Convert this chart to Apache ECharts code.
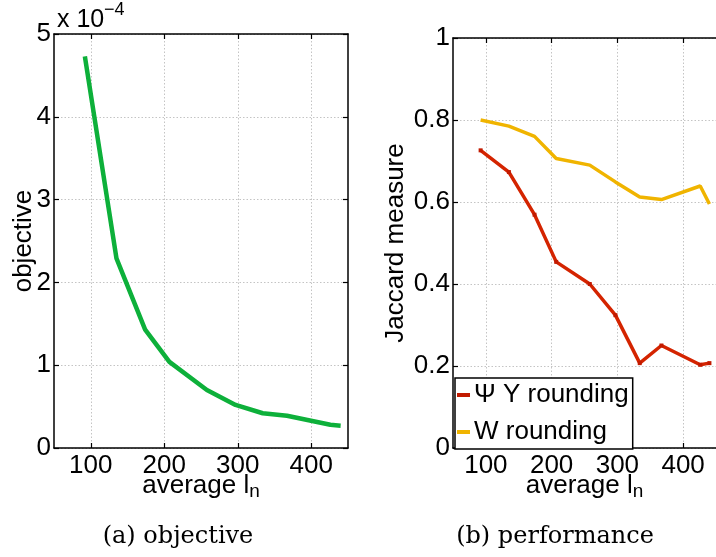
<!DOCTYPE html>
<html>
<head>
<meta charset="utf-8">
<script src="https://cdn.jsdelivr.net/npm/echarts@6/dist/echarts.min.js"></script>
<style>html,body{margin:0;padding:0;background:#fff}#c{width:716px;height:557px}</style>
</head>
<body>
<div id="c"></div>
<script>
// average l_n values (shared by both panels)
const avgLn = [92, 135, 174, 207, 258, 297, 334, 367, 426, 440];
// objective, in units of 1e-4
const objectiveE4 = [4.73, 2.29, 1.43, 1.04, 0.70, 0.52, 0.42, 0.39, 0.28, 0.27];
// Jaccard measure
const psiYRounding = [0.726, 0.673, 0.569, 0.454, 0.400, 0.324, 0.207, 0.250, 0.203, 0.207];
const wRounding = [0.800, 0.785, 0.760, 0.706, 0.690, 0.649, 0.612, 0.606, 0.639, 0.595];
const xTicks = [100, 200, 300, 400];
const seriesNames = ['\u03A8 Y rounding', 'W rounding'];

const pairs = (xs, ys) => xs.map((x, i) => [x, ys[i]]);
const FONT = 'Liberation Sans';
const gridLine = {show: true, lineStyle: {color: '#c4c4c4', type: [1.5, 2], width: 1}};

function xAx(gi, pos, labels) {
  return {
    type: 'value', gridIndex: gi, position: pos, min: 50, max: 450, interval: 50,
    axisLine: {show: true, onZero: false, lineStyle: {color: '#000', width: 1.5}},
    axisTick: {show: true, inside: true, length: 5, customValues: xTicks, lineStyle: {color: '#000', width: 1.2}},
    axisLabel: {show: labels, customValues: xTicks, color: '#000', fontFamily: FONT, fontSize: 26, margin: 5},
    splitLine: labels ? gridLine : {show: false},
    name: labels ? 'average l{sub|n}' : '',
    nameLocation: 'middle', nameGap: 23, nameMoveOverlap: false,
    nameTextStyle: {color: '#000', fontFamily: FONT, fontSize: 26,
      rich: {sub: {fontFamily: FONT, fontSize: 19, color: '#000', padding: [11, 0, 0, 0], verticalAlign: 'bottom'}}}
  };
}
function yAx(gi, pos, max, interval, labels, name, gap, fmt) {
  return {
    type: 'value', gridIndex: gi, position: pos, min: 0, max: max, interval: interval,
    axisLine: {show: true, onZero: false, lineStyle: {color: '#000', width: 1.5}},
    axisTick: {show: true, inside: true, length: 5, lineStyle: {color: '#000', width: 1.2}},
    axisLabel: {show: labels, color: '#000', fontFamily: FONT, fontSize: 26, margin: 3, formatter: fmt},
    splitLine: labels ? gridLine : {show: false},
    name: name, nameLocation: 'middle', nameGap: gap, nameMoveOverlap: false,
    nameTextStyle: {color: '#000', fontFamily: FONT, fontSize: 26}
  };
}

const chart = echarts.init(document.getElementById('c'), null, {renderer: 'canvas'});
chart.setOption({
  animation: false,
  backgroundColor: '#fff',
  grid: [
    {left: 54, top: 34, width: 294, height: 414},
    {left: 453, top: 38, width: 270, height: 410}
  ],
  xAxis: [xAx(0, 'bottom', true), xAx(0, 'top', false), xAx(1, 'bottom', true), xAx(1, 'top', false)],
  yAxis: [
    yAx(0, 'left', 5, 1, true, 'objective', 17, v => String(Math.round(v))),
    yAx(0, 'right', 5, 1, false, '', 0),
    yAx(1, 'left', 1, 0.2, true, 'Jaccard measure', 44)
  ],
  legend: {
    data: seriesNames, orient: 'vertical', left: 455, top: 378,
    icon: 'rect', itemWidth: 13, itemHeight: 4, itemGap: 9,
    padding: [3, 4, 3, 2],
    backgroundColor: '#fff', borderColor: '#000', borderWidth: 1.5,
    textStyle: {color: '#000', fontFamily: FONT, fontSize: 26, lineHeight: 28, padding: [0, 0, 0, -1]}
  },
  graphic: [
    {type: 'text', x: 57, y: 33, style: {text: 'x 10', font: '25px "Liberation Sans"', fill: '#000', verticalAlign: 'bottom'}},
    {type: 'text', x: 104, y: 19, style: {text: '\u22124', font: '18px "Liberation Sans"', fill: '#000', verticalAlign: 'bottom'}},
    {type: 'text', x: 178, y: 537, style: {text: '(a) objective', font: '24px "DejaVu Serif"', fill: '#000', align: 'center', verticalAlign: 'middle'}},
    {type: 'text', x: 555, y: 537, style: {text: '(b) performance', font: '24px "DejaVu Serif"', fill: '#000', align: 'center', verticalAlign: 'middle'}}
  ],
  series: [
    {type: 'line', xAxisIndex: 0, yAxisIndex: 0, data: pairs(avgLn, objectiveE4),
     showSymbol: false, symbol: 'none', lineStyle: {color: '#0db03a', width: 4.5}, itemStyle: {color: '#0db03a'}},
    {type: 'line', name: seriesNames[0], xAxisIndex: 2, yAxisIndex: 2, data: pairs(avgLn, psiYRounding),
     symbol: 'rect', symbolSize: 4, lineStyle: {color: '#d42400', width: 3.5}, itemStyle: {color: '#c21a00'}},
    {type: 'line', name: seriesNames[1], xAxisIndex: 2, yAxisIndex: 2, data: pairs(avgLn, wRounding),
     symbol: 'none', lineStyle: {color: '#f0b400', width: 3.5}, itemStyle: {color: '#f0b400'}}
  ]
});
</script>
</body>
</html>
